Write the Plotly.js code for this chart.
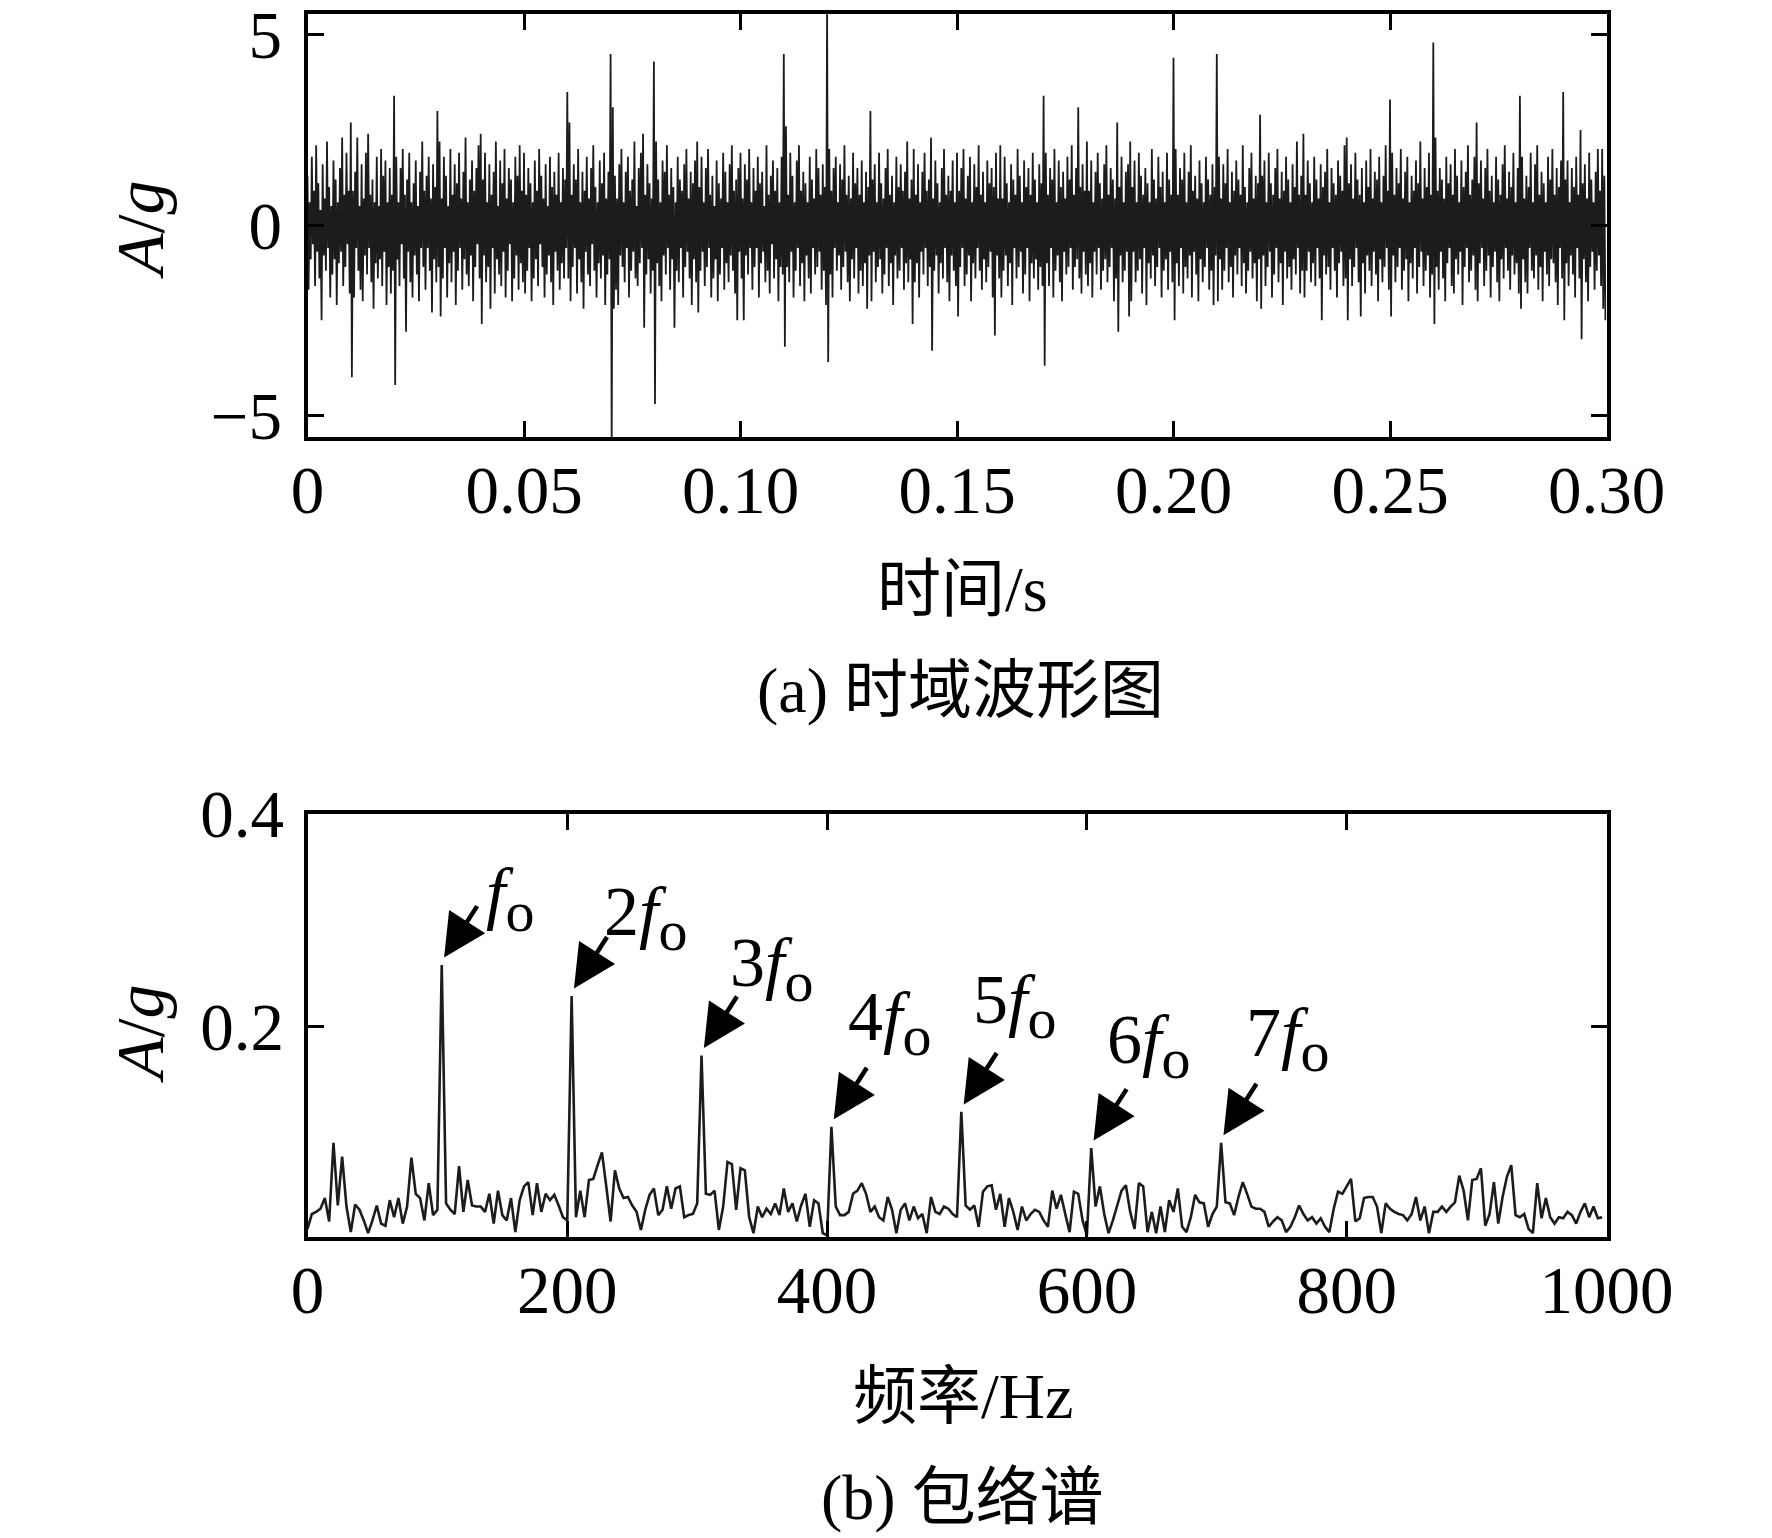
<!DOCTYPE html>
<html><head><meta charset="utf-8">
<script src="https://cdn.plot.ly/plotly-3.0.1.min.js"></script>
<style>html,body{margin:0;padding:0;background:#fff}</style>
</head><body><div id="chart" style="width:1772px;height:1538px"></div>
<script>
// (a) time-domain waveform, one row per 0.01 s (40 samples each, 0.25 ms apart)
const timeAmplitude = [
 1.3,-1.7,0.6,-0.9,1.8,-0.5,0.9,-1.6,2.1,-0.7, 1.1,-1.4,0.4,-2.5,1.6,-0.8,0.7,-1.2,2.2,-0.6, 1.0,-1.9,0.5,-1.3,1.7,-0.9,1.2,-2.1,0.6,-1.0, 1.5,-0.7,2.3,-1.6,0.8,-1.1,1.9,-0.5,0.9,-1.8,
 2.7,-4.0,0.9,-1.9,1.4,-0.6,2.3,-1.2,0.5,-1.7, 1.6,-2.0,0.7,-0.8,1.9,-1.3,2.4,-0.6,0.8,-1.5, 1.2,-2.2,0.6,-1.0,1.8,-1.4,0.5,-0.9,2.0,-1.6, 1.3,-0.7,1.7,-2.1,0.6,-1.1,1.5,-1.8,0.8,-1.2,
 3.4,-4.2,1.8,-0.9,0.6,-1.6,1.5,-0.5,2.0,-1.4, 0.8,-2.8,1.2,-0.7,1.9,-1.5,0.6,-1.9,1.1,-0.8, 1.7,-1.3,0.5,-2.0,1.4,-0.6,2.2,-1.1,0.9,-1.7, 1.3,-0.6,1.8,-1.2,0.7,-2.3,1.6,-0.9,1.0,-1.5,
 3.0,-1.1,2.2,-2.4,0.7,-1.4,1.8,-0.6,1.3,-1.9, 0.5,-1.0,2.0,-1.5,0.8,-0.7,1.6,-2.1,1.1,-1.2, 1.9,-0.6,0.7,-1.7,1.4,-0.9,2.3,-1.3,0.6,-1.6, 1.2,-0.8,1.7,-2.0,0.9,-1.1,1.5,-0.5,2.1,-1.4,
 2.4,-2.6,1.2,-0.8,1.9,-1.5,0.6,-1.1,1.6,-2.2, 0.8,-0.6,1.4,-1.8,2.2,-0.9,0.5,-1.3,1.7,-1.6, 1.1,-0.7,2.0,-1.9,0.7,-1.2,1.5,-0.5,1.2,-2.0, 0.6,-1.4,1.8,-0.8,1.3,-1.7,2.1,-1.0,0.9,-1.5,
 1.9,-1.8,0.8,-1.2,1.5,-0.6,1.1,-2.0,0.6,-1.4, 1.7,-0.9,0.9,-1.6,2.0,-0.5,1.3,-1.1,0.7,-1.9, 1.6,-1.3,0.5,-0.8,1.8,-1.5,1.0,-2.1,1.4,-0.7, 0.8,-1.2,1.9,-1.7,0.6,-1.0,1.5,-1.4,1.2,-0.6,
 3.5,-1.4,2.7,-2.0,0.8,-1.1,1.6,-0.6,1.2,-1.8, 2.0,-0.9,0.6,-1.5,1.4,-2.2,0.9,-0.7,1.8,-1.3, 0.7,-1.6,1.5,-0.5,2.1,-1.2,1.0,-1.9,0.6,-1.0, 1.7,-1.4,1.1,-0.8,1.9,-2.1,0.7,-1.3,1.4,-0.9,
 4.5,-5.8,3.1,-2.2,1.3,-1.7,0.7,-2.1,1.6,-0.8, 2.0,-1.1,0.6,-1.5,1.4,-0.6,1.8,-1.9,0.9,-1.2, 1.2,-0.7,2.2,-1.4,0.5,-1.6,1.5,-1.0,1.9,-0.6, 2.4,-2.7,0.8,-1.3,1.6,-0.9,1.1,-1.8,0.7,-1.2,
 4.3,-4.7,2.2,-1.0,1.2,-1.6,0.6,-2.0,1.7,-0.8, 1.4,-1.3,2.1,-0.6,0.8,-1.7,1.5,-0.9,1.0,-2.7, 0.6,-1.2,1.8,-1.5,1.2,-0.6,0.9,-1.9,1.6,-1.1, 2.0,-0.7,0.7,-1.4,1.4,-2.1,1.1,-0.9,1.7,-1.5,
 2.2,-2.3,1.0,-1.2,1.8,-0.7,0.6,-1.6,1.5,-1.1, 2.0,-0.6,0.8,-1.9,1.3,-1.4,0.5,-0.9,1.7,-2.0, 1.1,-1.3,0.7,-0.6,1.9,-1.7,1.4,-1.0,0.6,-1.5, 1.6,-0.8,2.1,-1.2,0.9,-1.8,1.2,-2.5,1.5,-0.7,
 1.9,-1.4,0.7,-2.5,1.6,-0.8,1.2,-1.3,2.0,-0.6, 0.6,-1.7,1.5,-1.1,0.9,-0.6,1.8,-1.9,1.1,-1.0, 1.4,-0.7,0.5,-1.5,2.1,-1.2,0.8,-1.8,1.3,-0.5, 1.7,-1.4,0.9,-0.9,1.5,-2.0,0.6,-1.1,1.8,-1.3,
 4.5,-3.2,2.6,-1.1,0.8,-1.5,1.9,-0.7,1.3,-1.9, 0.6,-1.2,1.7,-0.6,2.1,-1.6,0.9,-1.0,1.4,-2.0, 1.1,-0.8,0.6,-1.4,1.8,-1.8,1.2,-0.6,0.7,-1.3, 2.0,-1.1,1.5,-0.7,0.8,-1.7,1.6,-1.2,1.0,-2.1,
 5.8,-3.6,2.0,-1.3,0.9,-1.9,1.5,-0.6,1.8,-1.2, 0.6,-0.8,1.6,-1.7,1.2,-1.1,2.1,-0.7,0.8,-1.5, 1.3,-2.0,0.7,-0.9,1.9,-1.4,1.1,-0.6,1.5,-1.8, 0.8,-1.2,1.7,-1.6,0.6,-1.0,1.4,-2.2,1.0,-0.8,
 3.0,-2.0,1.2,-0.7,1.6,-1.5,0.6,-1.1,1.9,-0.9, 1.1,-1.8,0.7,-1.3,1.5,-0.6,2.0,-1.6,0.8,-1.0, 1.3,-2.1,0.6,-0.8,1.8,-1.4,1.0,-1.2,1.6,-0.6, 0.9,-1.7,1.4,-1.0,2.2,-1.5,0.7,-0.9,1.2,-2.6,
 2.0,-1.5,0.8,-1.0,1.6,-1.9,0.6,-0.7,1.4,-1.3, 1.9,-0.6,0.9,-1.6,1.2,-1.1,2.3,-3.3,0.7,-1.2, 1.7,-0.8,1.1,-1.8,0.6,-1.0,1.5,-1.4,2.0,-0.6, 0.8,-1.5,1.3,-2.0,0.9,-0.8,1.7,-1.2,0.6,-1.6,
 1.9,-2.4,0.9,-1.1,1.5,-0.6,2.0,-1.6,0.7,-1.3, 1.3,-0.8,1.8,-2.0,0.6,-1.0,1.6,-1.4,1.0,-0.6, 2.1,-1.2,0.8,-1.7,1.4,-0.9,0.6,-1.5,1.7,-1.1, 1.1,-0.7,1.5,-1.9,1.0,-2.9,1.9,-0.8,0.7,-1.4,
 2.1,-1.9,0.7,-1.2,1.8,-0.8,1.1,-1.6,0.6,-1.0, 1.6,-2.1,1.2,-0.6,0.8,-1.4,2.0,-1.1,1.3,-0.7, 0.6,-1.8,1.7,-1.3,1.0,-0.6,1.5,-2.0,0.8,-1.0, 1.9,-1.4,1.2,-0.9,0.6,-1.7,1.6,-1.1,1.1,-1.6,
 3.4,-3.7,1.9,-1.0,0.8,-1.6,1.5,-0.6,1.2,-1.9, 2.0,-1.2,0.6,-0.8,1.7,-1.5,1.0,-2.0,1.4,-0.7, 0.7,-1.3,1.8,-1.1,1.2,-0.6,2.1,-1.7,0.8,-1.1, 1.5,-0.9,3.1,-1.4,1.0,-1.8,1.6,-0.7,0.9,-1.3,
 2.2,-1.6,0.9,-1.0,1.7,-1.9,0.6,-0.7,1.4,-1.3, 1.9,-0.6,1.1,-1.7,0.7,-1.2,1.6,-0.9,2.1,-1.5, 0.8,-1.1,1.5,-0.6,1.2,-2.0,0.7,-1.4,2.7,-2.8, 1.0,-0.8,1.8,-1.5,0.6,-1.2,1.4,-0.7,1.6,-2.4,
 2.2,-2.0,1.0,-0.7,1.7,-1.5,0.6,-1.2,1.9,-0.9, 1.3,-1.8,0.8,-0.6,1.5,-2.1,1.1,-1.0,0.6,-1.4, 2.0,-0.8,1.2,-1.6,0.7,-1.1,1.8,-0.6,1.0,-1.9, 1.4,-1.2,0.6,-0.9,1.9,-1.7,1.2,-0.7,0.8,-1.5,
 4.4,-2.5,2.0,-1.0,0.8,-1.6,1.5,-0.6,1.2,-1.8, 1.9,-1.1,0.6,-1.4,1.4,-0.8,2.1,-1.9,0.9,-0.7, 1.3,-1.3,0.7,-2.0,1.7,-0.9,1.1,-1.5,0.6,-1.1, 1.8,-0.6,1.2,-1.7,0.8,-1.2,1.6,-2.1,1.0,-0.8,
 4.5,-2.0,1.8,-0.9,0.7,-1.7,1.6,-1.2,1.1,-0.6, 2.0,-1.5,0.6,-1.1,1.4,-1.9,0.9,-0.8,1.7,-1.3, 1.2,-0.6,0.8,-1.6,2.1,-1.0,1.0,-1.8,0.6,-1.2, 1.5,-0.7,1.9,-1.4,0.7,-1.0,1.3,-2.0,1.1,-0.9,
 2.9,-2.2,1.3,-0.8,1.7,-1.6,0.6,-1.1,1.9,-0.7, 1.1,-1.9,0.8,-1.3,1.5,-0.6,2.0,-1.5,0.7,-1.0, 1.4,-2.1,0.9,-0.7,1.8,-1.4,1.2,-1.1,0.6,-1.7, 1.6,-0.9,1.0,-1.3,2.2,-0.6,0.8,-1.8,1.3,-1.2,
 2.4,-1.9,0.8,-1.2,1.7,-0.7,1.1,-1.5,0.6,-1.0, 1.8,-1.6,1.2,-0.6,0.7,-1.4,1.6,-2.5,1.0,-0.8, 1.4,-1.3,2.0,-1.1,0.6,-1.7,1.5,-0.6,1.1,-1.2, 0.8,-1.9,1.7,-1.0,1.3,-0.7,0.9,-1.6,2.1,-1.4,
 2.3,-2.5,1.1,-0.9,1.6,-1.6,0.7,-1.1,1.9,-0.6, 1.2,-1.5,0.8,-2.4,1.5,-1.0,0.6,-1.8,1.7,-0.8, 1.0,-1.2,2.0,-1.6,0.7,-0.7,1.4,-1.3,1.2,-2.0, 1.8,-0.9,0.6,-1.5,1.3,-1.1,2.1,-0.6,0.9,-1.7,
 3.3,-2.4,1.9,-0.8,0.8,-1.5,1.5,-1.1,1.1,-0.6, 2.0,-1.7,0.7,-1.2,1.4,-0.9,1.8,-2.0,0.6,-1.0, 1.3,-1.4,0.9,-0.6,1.7,-1.8,1.1,-1.1,2.2,-0.7, 0.7,-1.6,1.5,-1.2,1.0,-0.8,1.9,-1.9,0.8,-1.3,
 4.8,-2.6,2.3,-1.1,0.9,-1.7,1.5,-0.7,1.2,-1.4, 0.7,-2.0,1.8,-1.0,1.1,-0.6,1.6,-1.6,0.8,-1.8, 2.0,-0.9,1.3,-1.3,0.6,-0.7,1.7,-2.1,1.0,-1.1, 1.4,-0.6,2.1,-1.5,0.8,-1.2,1.2,-0.8,1.8,-1.7,
 2.7,-2.0,1.1,-1.0,1.7,-0.6,0.7,-1.6,1.5,-1.2, 2.0,-0.8,0.9,-1.9,1.3,-1.1,0.6,-0.7,1.8,-1.5, 1.2,-2.0,0.8,-0.9,1.6,-1.4,2.1,-0.6,0.7,-1.2, 1.4,-1.7,1.0,-0.8,1.9,-1.3,0.6,-1.0,1.5,-1.8,
 3.4,-2.2,1.8,-0.9,0.7,-1.5,1.3,-1.8,1.0,-0.6, 1.9,-1.2,0.6,-1.4,1.6,-0.8,2.1,-1.7,0.8,-1.1, 1.4,-2.0,1.1,-0.7,0.6,-1.3,1.8,-1.6,1.2,-0.9, 2.0,-1.0,0.8,-1.5,1.5,-2.1,1.0,-0.6,1.7,-1.4,
 3.5,-2.5,1.2,-1.0,1.7,-1.6,0.6,-0.8,1.5,-1.3, 1.0,-1.9,1.8,-0.6,0.8,-1.4,2.5,-3.0,1.1,-0.9, 1.6,-1.5,0.7,-2.0,1.9,-1.1,1.2,-0.7,0.6,-1.7, 1.4,-1.2,2.0,-0.8,0.9,-1.6,2.0,-2.2,1.3,-2.5
];
// (b) envelope spectrum, one value per 3.33 Hz bin, 10 bins per row
const envelopeAmplitude = [
 0.010,0.024,0.026,0.029,0.039,0.017,0.091,0.032,0.078,0.031,
 0.007,0.033,0.028,0.018,0.006,0.018,0.032,0.015,0.013,0.037,
 0.021,0.039,0.015,0.031,0.077,0.043,0.039,0.018,0.053,0.023,
 0.028,0.258,0.034,0.028,0.024,0.069,0.026,0.056,0.032,0.031,
 0.031,0.026,0.043,0.015,0.046,0.023,0.018,0.039,0.007,0.037,
 0.050,0.054,0.023,0.053,0.026,0.043,0.037,0.042,0.032,0.021,
 0.018,0.229,0.021,0.046,0.021,0.056,0.057,0.070,0.082,0.050,
 0.017,0.065,0.048,0.039,0.040,0.032,0.026,0.009,0.028,0.042,
 0.048,0.023,0.028,0.050,0.029,0.048,0.050,0.021,0.023,0.024,
 0.034,0.173,0.043,0.042,0.046,0.009,0.031,0.073,0.071,0.028,
 0.067,0.065,0.021,0.006,0.031,0.021,0.029,0.024,0.034,0.023,
 0.048,0.026,0.034,0.017,0.032,0.043,0.012,0.037,0.034,0.006,
 0.004,0.106,0.031,0.023,0.023,0.026,0.043,0.046,0.053,0.043,
 0.026,0.031,0.021,0.018,0.040,0.028,0.006,0.028,0.034,0.018,
 0.031,0.020,0.024,0.006,0.040,0.026,0.024,0.031,0.029,0.024,
 0.021,0.120,0.032,0.028,0.032,0.012,0.045,0.050,0.051,0.028,
 0.043,0.012,0.039,0.026,0.009,0.031,0.018,0.024,0.028,0.026,
 0.018,0.012,0.046,0.029,0.042,0.024,0.007,0.045,0.043,0.018,
 0.004,0.086,0.031,0.050,0.024,0.006,0.018,0.032,0.046,0.051,
 0.026,0.010,0.053,0.050,0.007,0.026,0.006,0.031,0.007,0.037,
 0.026,0.048,0.012,0.007,0.021,0.042,0.035,0.034,0.012,0.024,
 0.031,0.091,0.035,0.034,0.023,0.040,0.054,0.043,0.031,0.029,
 0.029,0.026,0.012,0.017,0.021,0.018,0.007,0.012,0.021,0.032,
 0.024,0.018,0.021,0.015,0.020,0.012,0.007,0.029,0.045,0.043,
 0.050,0.057,0.017,0.020,0.039,0.040,0.040,0.031,0.006,0.034,
 0.029,0.026,0.024,0.023,0.018,0.024,0.040,0.018,0.031,0.006,
 0.026,0.026,0.031,0.026,0.031,0.035,0.060,0.046,0.018,0.056,
 0.057,0.067,0.013,0.024,0.054,0.015,0.040,0.059,0.070,0.023,
 0.021,0.024,0.010,0.006,0.053,0.020,0.039,0.021,0.015,0.021,
 0.020,0.026,0.023,0.015,0.026,0.034,0.021,0.031,0.020,0.021
];
const sampleStep = 0.00025;     // s
const freqStep = 1000 / 300;    // Hz
const timeTickVals = [0, 0.05, 0.10, 0.15, 0.20, 0.25, 0.30];
const timeTickText = ['0', '0.05', '0.10', '0.15', '0.20', '0.25', '0.30'];
const ampTickVals = [-5, 0, 5];
const ampTickText = ['\u22125', '0', '5'];
const freqTickVals = [0, 200, 400, 600, 800, 1000];
const freqTickText = ['0', '200', '400', '600', '800', '1000'];
const envTickVals = [0.2, 0.4];
const envTickText = ['0.2', '0.4'];
const harmonicIndex = [31, 61, 91, 121, 151, 181, 211];
const harmonicOrder = ['', '2', '3', '4', '5', '6', '7'];

const FONT = 'Liberation Serif, "Times New Roman", "Noto Sans CJK SC", serif';
const INK = '#000';
const SUBO = '<sub><span style="font-size:58px">o</span></sub>';

// label text positions (data coords of left edge / vertical middle)
const labelPos = [[135.5,0.3200],[226.4,0.3022],[323.4,0.2542],[414.2,0.2034],[510.4,0.2194],[613.6,0.1818],[720.6,0.1884]];

const axisBase = {
  showline: true, linecolor: INK, linewidth: 4, mirror: 'ticks',
  ticks: 'inside', ticklen: 16, tickwidth: 3, tickcolor: INK,
  showgrid: false, zeroline: false, tickmode: 'array', fixedrange: true,
  ticklabeloverflow: 'allow',
  tickfont: {family: FONT, size: 67, color: INK}
};

const traces = [
  {type: 'scatter', mode: 'lines', x0: 0, dx: sampleStep, y: timeAmplitude,
   xaxis: 'x', yaxis: 'y', line: {color: '#1c1c1c', width: 1.8, simplify: false}, hoverinfo: 'skip'},
  {type: 'scatter', mode: 'lines', x0: 0, dx: freqStep, y: envelopeAmplitude,
   xaxis: 'x2', yaxis: 'y2', line: {color: '#1c1c1c', width: 2.6, simplify: false}, hoverinfo: 'skip'}
];

const annotations = [];
harmonicIndex.forEach((idx, k) => {
  annotations.push({
    xref: 'x2', yref: 'y2', x: idx * freqStep + 1.8, y: envelopeAmplitude[idx] + 0.007,
    ax: 34, ay: -53, text: '', showarrow: true, arrowhead: 2, arrowsize: 1.9,
    arrowwidth: 4.5, arrowcolor: INK
  });
  annotations.push({
    xref: 'x2', yref: 'y2', x: labelPos[k][0], y: labelPos[k][1],
    xanchor: 'left', yanchor: 'middle', showarrow: false,
    text: harmonicOrder[k] + '<i>f</i>' + SUBO,
    font: {family: FONT, size: 70, color: INK}
  });
});
const txt = (text, x, y, extra) => Object.assign({xref: 'paper', yref: 'paper', x: x, y: y,
  xanchor: 'center', yanchor: 'middle', showarrow: false, text: text,
  font: {family: FONT, size: 64, color: INK}}, extra || {});
annotations.push(txt('<i>A</i>/<i>g</i>', 140/1772, 1 - 230/1538, {textangle: -90, font: {family: FONT, size: 68, color: INK}}));
annotations.push(txt('<i>A</i>/<i>g</i>', 140/1772, 1 - 1034/1538, {textangle: -90, font: {family: FONT, size: 68, color: INK}}));
annotations.push(txt('时间/s', 963/1772, 1 - 589/1538));
annotations.push(txt('频率/Hz', 963/1772, 1 - 1396/1538));
annotations.push(txt('(a) 时域波形图', 960/1772, 1 - 690/1538));
annotations.push(txt('(b) 包络谱', 962/1772, 1 - 1497/1538));

const xDom = [307.5/1772, 1606.5/1772];
const layout = {
  width: 1772, height: 1538, margin: {l: 0, r: 0, t: 0, b: 0},
  paper_bgcolor: '#fff', plot_bgcolor: '#fff', showlegend: false,
  xaxis: Object.assign({}, axisBase, {domain: xDom, range: [0, 0.3], anchor: 'y',
    tickvals: timeTickVals, ticktext: timeTickText, ticklabelstandoff: -8}),
  yaxis: Object.assign({}, axisBase, {domain: [1 - 437/1538, 1 - 14/1538], range: [-5.57, 5.55], anchor: 'x',
    tickvals: ampTickVals, ticktext: ampTickText, ticklabelstandoff: 8}),
  xaxis2: Object.assign({}, axisBase, {domain: xDom, range: [0, 1000], anchor: 'y2',
    tickvals: freqTickVals, ticktext: freqTickText, ticklabelstandoff: -8}),
  yaxis2: Object.assign({}, axisBase, {domain: [1 - 1237/1538, 1 - 814/1538], range: [0.0024, 0.4], anchor: 'x2',
    tickvals: envTickVals, ticktext: envTickText, ticklabelstandoff: 6}),
  annotations: annotations
};
Plotly.newPlot('chart', traces, layout, {staticPlot: true, displayModeBar: false});
</script></body></html>
